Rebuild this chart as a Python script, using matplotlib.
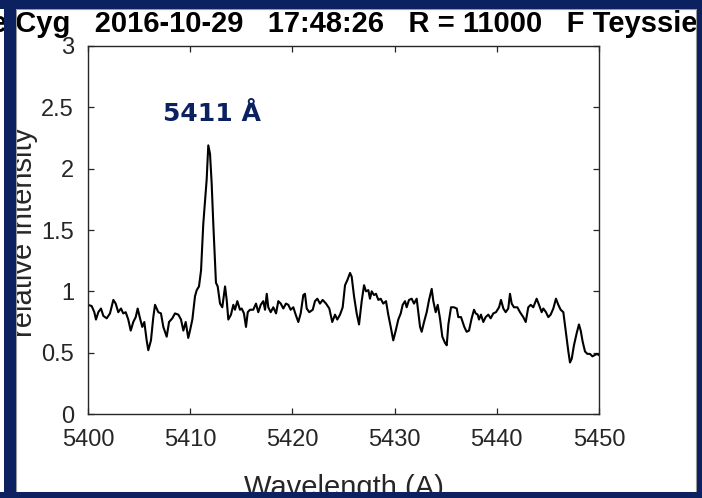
import matplotlib
matplotlib.use("Agg")
import matplotlib.pyplot as plt
from matplotlib.patches import Rectangle

# spectrum (wavelength in A, relative intensity)
wavelength = [
    5400.00, 5400.36, 5400.62, 5400.78, 5401.01, 5401.27, 5401.50, 5401.83,
    5402.15, 5402.48, 5402.71, 5402.96, 5403.23, 5403.45, 5403.69, 5403.94,
    5404.18, 5404.43, 5404.67, 5404.86, 5405.09, 5405.31, 5405.51, 5405.74,
    5405.90, 5406.16, 5406.39, 5406.56, 5406.88, 5407.14, 5407.37, 5407.70,
    5407.93, 5408.25, 5408.51, 5408.84, 5409.10, 5409.33, 5409.56, 5409.81,
    5409.98, 5410.21, 5410.47, 5410.64, 5410.86, 5411.06, 5411.28, 5411.45,
    5411.61, 5411.77, 5411.94, 5412.10, 5412.26, 5412.43, 5412.52, 5412.69,
    5412.92, 5413.14, 5413.41, 5413.57, 5413.73, 5413.99, 5414.22, 5414.38,
    5414.61, 5414.87, 5415.04, 5415.26, 5415.46, 5415.63, 5415.85, 5416.17,
    5416.44, 5416.66, 5416.90, 5417.15, 5417.32, 5417.49, 5417.64, 5417.88,
    5418.13, 5418.40, 5418.62, 5418.86, 5419.11, 5419.37, 5419.60, 5419.83,
    5420.09, 5420.32, 5420.58, 5420.81, 5421.07, 5421.23, 5421.40, 5421.65,
    5421.99, 5422.21, 5422.44, 5422.70, 5422.96, 5423.29, 5423.61, 5423.90,
    5424.17, 5424.39, 5424.66, 5424.92, 5425.15, 5425.37, 5425.64, 5425.80,
    5426.03, 5426.29, 5426.52, 5426.78, 5427.01, 5427.20, 5427.43, 5427.59,
    5427.76, 5427.98, 5428.18, 5428.41, 5428.64, 5428.89, 5429.16, 5429.38,
    5429.62, 5429.87, 5430.11, 5430.36, 5430.60, 5430.79, 5431.02, 5431.18,
    5431.41, 5431.67, 5431.90, 5432.16, 5432.49, 5432.65, 5432.88, 5433.14,
    5433.37, 5433.63, 5433.79, 5434.02, 5434.22, 5434.44, 5434.67, 5434.93,
    5435.10, 5435.26, 5435.52, 5435.81, 5436.08, 5436.23, 5436.50, 5436.66,
    5436.82, 5437.05, 5437.28, 5437.54, 5437.77, 5437.94, 5438.13, 5438.26,
    5438.45, 5438.68, 5438.91, 5439.17, 5439.40, 5439.66, 5439.92, 5440.22,
    5440.41, 5440.64, 5440.87, 5441.12, 5441.29, 5441.46, 5441.68, 5442.01,
    5442.27, 5442.59, 5442.83, 5443.08, 5443.32, 5443.57, 5443.90, 5444.13,
    5444.39, 5444.55, 5444.81, 5445.04, 5445.27, 5445.53, 5445.79, 5446.02,
    5446.25, 5446.51, 5446.74, 5447.00, 5447.16, 5447.33, 5447.55, 5447.82,
    5448.04, 5448.21, 5448.40, 5448.63, 5448.86, 5449.12, 5449.35, 5449.59,
    5449.81, 5450.00,
]
intensity = [
    0.89, 0.88, 0.83, 0.77, 0.83, 0.86, 0.80, 0.78,
    0.82, 0.93, 0.90, 0.83, 0.86, 0.82, 0.83, 0.77,
    0.68, 0.75, 0.79, 0.86, 0.78, 0.71, 0.75, 0.60,
    0.52, 0.60, 0.79, 0.89, 0.83, 0.82, 0.71, 0.63,
    0.75, 0.78, 0.82, 0.81, 0.77, 0.68, 0.75, 0.62,
    0.68, 0.77, 0.96, 1.01, 1.04, 1.17, 1.55, 1.74,
    1.91, 2.19, 2.12, 1.88, 1.55, 1.23, 1.07, 1.04,
    0.90, 0.87, 1.04, 0.93, 0.77, 0.81, 0.89, 0.85,
    0.92, 0.85, 0.86, 0.82, 0.71, 0.83, 0.85, 0.85,
    0.90, 0.83, 0.89, 0.92, 0.85, 0.98, 0.87, 0.83,
    0.87, 0.82, 0.92, 0.90, 0.86, 0.90, 0.89, 0.85,
    0.87, 0.81, 0.75, 0.82, 0.97, 0.98, 0.86, 0.83,
    0.85, 0.92, 0.94, 0.90, 0.93, 0.90, 0.86, 0.75,
    0.81, 0.77, 0.81, 0.87, 1.05, 1.09, 1.15, 1.12,
    0.96, 0.82, 0.73, 0.92, 1.05, 1.00, 1.01, 0.94,
    1.00, 0.97, 0.98, 0.93, 0.94, 0.90, 0.92, 0.81,
    0.71, 0.60, 0.68, 0.77, 0.82, 0.89, 0.92, 0.87,
    0.93, 0.94, 0.90, 0.94, 0.71, 0.67, 0.75, 0.83,
    0.93, 1.02, 0.92, 0.83, 0.89, 0.78, 0.63, 0.58,
    0.56, 0.73, 0.87, 0.87, 0.86, 0.79, 0.79, 0.75,
    0.71, 0.67, 0.68, 0.78, 0.85, 0.82, 0.81, 0.77,
    0.81, 0.75, 0.79, 0.81, 0.78, 0.82, 0.83, 0.87,
    0.93, 0.86, 0.83, 0.86, 0.98, 0.90, 0.87, 0.87,
    0.83, 0.79, 0.75, 0.87, 0.89, 0.87, 0.94, 0.89,
    0.83, 0.86, 0.83, 0.79, 0.81, 0.86, 0.94, 0.89,
    0.85, 0.83, 0.68, 0.51, 0.42, 0.45, 0.56, 0.66,
    0.73, 0.68, 0.59, 0.51, 0.49, 0.49, 0.47, 0.48,
    0.49, 0.48,
]

x_ticks = [5400, 5410, 5420, 5430, 5440, 5450]
y_ticks = [0, 0.5, 1, 1.5, 2, 2.5, 3]
y_tick_labels = ["0", "0.5", "1", "1.5", "2", "2.5", "3"]

title_text = "e Cyg   2016-10-29   17:48:26   R = 11000   F Teyssier"
peak_label = "5411 Å"
peak_x = 5407.3
peak_y = 2.39

NAVY = "#0b2160"
INK = "#262626"

W, H = 702, 498

plt.rcParams["font.family"] = ["Liberation Sans", "DejaVu Sans"]

fig = plt.figure(figsize=(W / 100, H / 100), dpi=100)
fig.patch.set_facecolor("white")

# ----------------------------------
# Spectrum
# ----------------------------------

ax = fig.add_axes([88 / W, 84 / H, 511 / W, 368 / H])
ax.plot(wavelength, intensity, color="black", lw=1.5)

ax.set_xlim(5400, 5450)
ax.set_ylim(0, 3)
ax.set_xticks(x_ticks)
ax.set_yticks(y_ticks)
ax.set_yticklabels(y_tick_labels)

ax.tick_params(
    direction="in", top=True, right=True,
    length=4, width=0.9, color=INK,
    labelcolor=INK, labelsize=17,
)
ax.tick_params(axis="x", pad=11)
ax.tick_params(axis="y", pad=10)

for s in ax.spines.values():
    s.set_color(INK)
    s.set_linewidth(1.0)

ax.text(
    peak_x, peak_y, peak_label,
    color=NAVY, fontsize=18, fontweight="bold",
    family="DejaVu Sans", ha="left", va="baseline",
)

# labels / title (partly cut by the frame, like the source)
fig.text(38 / W, 1 - 232 / H, "relative intensity",
         rotation=90, ha="right", va="center", fontsize=21, color=INK)
fig.text(343.5 / W, 1 - 474 / H, "Wavelength (A)",
         ha="center", va="top", fontsize=21, color=INK)
fig.text(-9 / W, 1 - 32 / H, title_text,
         ha="left", va="baseline", fontsize=21, fontweight="bold", color="black")

# ----------------------------------
# Navy frame
# ----------------------------------

fig.add_artist(Rectangle((16 / W, 6 / H), 680 / W, 483 / H, transform=fig.transFigure,
                         facecolor="none", edgecolor="#9a9a9a", lw=0.8, zorder=9))
frame = [
    (0, 0, W, 9),        # top band
    (4, 0, 11.5, H),     # left bar
    (697, 0, 5, H),      # right bar
    (0, 492, W, 6),      # bottom band
]
for x0, y0, w, h in frame:
    fig.add_artist(Rectangle((x0 / W, 1 - (y0 + h) / H), w / W, h / H,
                             transform=fig.transFigure, facecolor=NAVY,
                             edgecolor="none", zorder=10))

fig.savefig("out.png", dpi=100)
